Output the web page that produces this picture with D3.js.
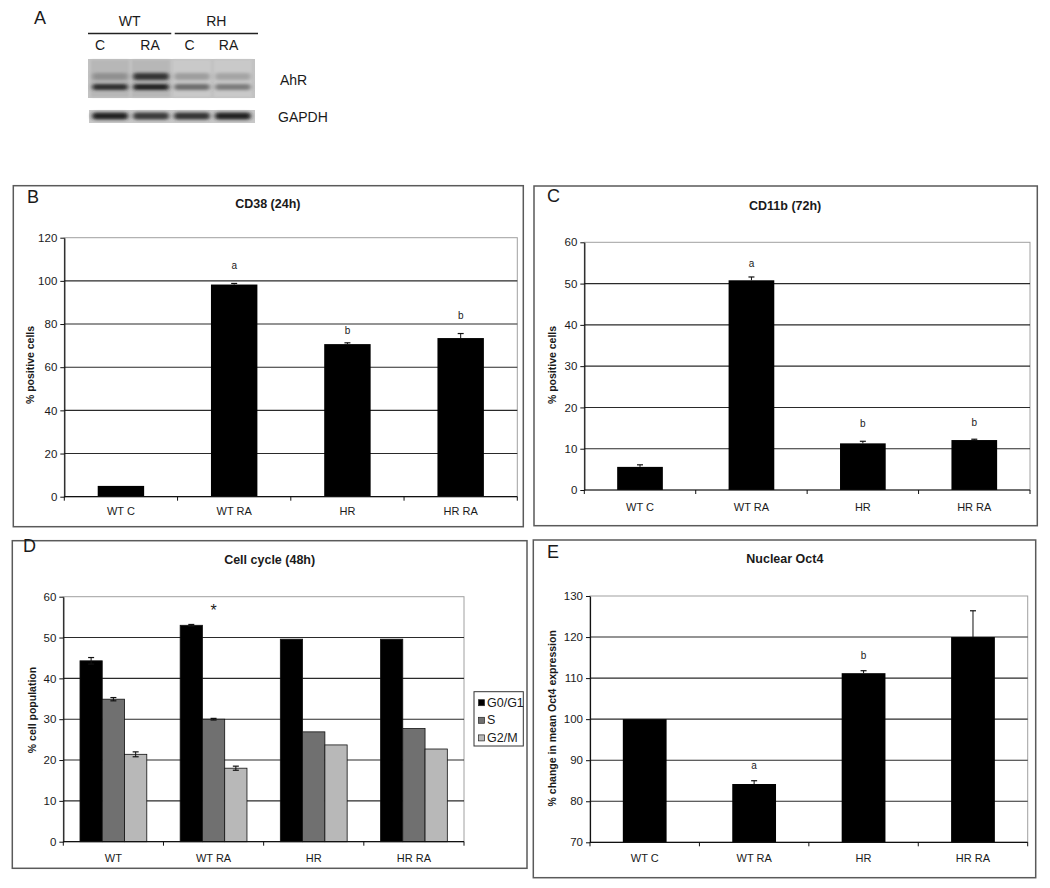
<!DOCTYPE html>
<html>
<head>
<meta charset="utf-8">
<script src="https://cdn.jsdelivr.net/npm/d3@7"></script>
<style>
  html, body { margin: 0; padding: 0; background: #fff; }
  svg { display: block; font-family: "Liberation Sans", Arial, sans-serif; }
</style>
</head>
<body>
<svg id="fig" width="1050" height="888"></svg>
<script>
// ---------------- DATA ----------------
const lanes = ["C", "RA", "C", "RA"];
const laneGroups = ["WT", "RH"];
const ahrUpperBand = [0.28, 0.80, 0.20, 0.16];
const ahrLowerBand = [0.85, 0.92, 0.48, 0.40];
const gapdhBand = [0.92, 0.78, 0.80, 0.92];

const categories = ["WT C", "WT RA", "HR", "HR RA"];

const cd38Values = [5.0, 98.3, 70.7, 73.5];
const cd38Errors = [0.0, 0.5, 0.6, 2.1];
const cd38Letters = ["", "a", "b", "b"];
const cd38LetterAt = [null, 107, 76.9, 83.8];
const cd38Ticks = [0, 20, 40, 60, 80, 100, 120];

const cd11bValues = [5.6, 50.8, 11.3, 12.1];
const cd11bErrors = [0.5, 0.8, 0.5, 0.2];
const cd11bLetters = ["", "a", "b", "b"];
const cd11bLetterAt = [null, 54.9, 16.1, 16.4];
const cd11bTicks = [0, 10, 20, 30, 40, 50, 60];

const cycleCategories = ["WT", "WT RA", "HR", "HR RA"];
const cycleSeries = ["G0/G1", "S", "G2/M"];
const g0g1Values = [44.3, 53.0, 49.6, 49.6];
const g0g1Errors = [0.8, 0.2, 0, 0];
const sValues = [34.9, 30.0, 26.9, 27.7];
const sErrors = [0.4, 0.2, 0, 0];
const g2mValues = [21.4, 18.0, 23.7, 22.7];
const g2mErrors = [0.6, 0.5, 0, 0];
const cycleMarks = ["", "*", "", ""];
const cycleMarkAt = [null, 56.5, null, null];
const cycleTicks = [0, 10, 20, 30, 40, 50, 60];

const oct4Values = [100, 84.2, 111.2, 120.0];
const oct4Errors = [0, 0.8, 0.6, 6.4];
const oct4Letters = ["", "a", "b", ""];
const oct4LetterAt = [null, 88.8, 115.5, null];
const oct4Ticks = [70, 80, 90, 100, 110, 120, 130];

// ---------------- DRAWING ----------------
const svg = d3.select("#fig");
const TXT = "#1a1a1a";
const defs = svg.append("defs");
defs.append("filter").attr("id", "blur").attr("x", "-20%").attr("y", "-150%").attr("width", "140%").attr("height", "400%")
  .append("feGaussianBlur").attr("stdDeviation", "2.2 1.6");
defs.append("filter").attr("id", "blurBg").attr("x", "-5%").attr("y", "-5%").attr("width", "110%").attr("height", "110%")
  .append("feGaussianBlur").attr("stdDeviation", 1.2);

// ---- Panel A: western blot ----
(function () {
  const g = svg.append("g");
  g.append("text").attr("x", 34).attr("y", 24).attr("font-size", 18).attr("fill", TXT).text("A");
  const laneX = d3.scaleBand().domain(d3.range(4)).range([88, 255]).padding(0.08);
  const groupX = d3.scaleBand().domain(laneGroups).range([88, 258]).paddingInner(0.04);
  laneGroups.forEach(gr => {
    g.append("text").attr("x", groupX(gr) + groupX.bandwidth() / 2).attr("y", 26)
      .attr("text-anchor", "middle").attr("font-size", 14).attr("fill", TXT).text(gr);
    g.append("line").attr("x1", groupX(gr)).attr("x2", groupX(gr) + groupX.bandwidth())
      .attr("y1", 33.5).attr("y2", 33.5).attr("stroke", "#222").attr("stroke-width", 1.3);
  });
  const labelX = [100, 150, 189.5, 228.5];
  lanes.forEach((l, i) => {
    g.append("text").attr("x", labelX[i]).attr("y", 50).attr("text-anchor", "middle")
      .attr("font-size", 14).attr("fill", TXT).text(l);
  });
  // AhR blot
  const ahr = g.append("g");
  ahr.append("rect").attr("x", 88).attr("y", 59).attr("width", 167).attr("height", 39).attr("fill", "#c2c2c2");
  lanes.forEach((l, i) => {
    ahr.append("rect").attr("x", laneX(i)).attr("y", 60).attr("width", laneX.bandwidth()).attr("height", 37)
      .attr("fill", i < 2 ? "#b7b7b7" : "#c9c9c9").attr("filter", "url(#blurBg)");
  });
  const shade = d3.scaleLinear().domain([0, 1]).range(["#c0c0c0", "#141414"]);
  lanes.forEach((l, i) => {
    const x0 = laneX(i), w = laneX.bandwidth();
    ahr.append("rect").attr("x", x0 + 1).attr("y", 73).attr("width", w - 2).attr("height", 7)
      .attr("rx", 3).attr("fill", shade(ahrUpperBand[i])).attr("filter", "url(#blur)");
    ahr.append("rect").attr("x", x0 + 1).attr("y", 84).attr("width", w - 2).attr("height", 6)
      .attr("rx", 3).attr("fill", shade(ahrLowerBand[i])).attr("filter", "url(#blur)");
  });
  g.append("text").attr("x", 280).attr("y", 85).attr("font-size", 14).attr("fill", TXT).text("AhR");
  // GAPDH blot
  g.append("rect").attr("x", 89).attr("y", 110).attr("width", 166).attr("height", 13).attr("fill", "#c8c8c8");
  lanes.forEach((l, i) => {
    const x0 = laneX(i), w = laneX.bandwidth();
    g.append("rect").attr("x", x0 + 1).attr("y", 112.5).attr("width", w - 2).attr("height", 7)
      .attr("rx", 3).attr("fill", shade(gapdhBand[i])).attr("filter", "url(#blur)");
  });
  g.append("text").attr("x", 278).attr("y", 122).attr("font-size", 14).attr("fill", TXT).text("GAPDH");
})();

// ---- generic bar panel ----
function barPanel(cfg) {
  const g = svg.append("g");
  const [bx0, by0, bx1, by1] = cfg.box;
  const [px0, py0, px1, py1] = cfg.plot;
  g.append("rect").attr("x", bx0).attr("y", by0).attr("width", bx1 - bx0).attr("height", by1 - by0)
    .attr("fill", "#fff").attr("stroke", "#5a5a5a").attr("stroke-width", 1.5);
  g.append("text").attr("x", cfg.letterPos[0]).attr("y", cfg.letterPos[1]).attr("font-size", 18)
    .attr("fill", TXT).text(cfg.letter);
  g.append("text").attr("x", (px0 + px1) / 2 + (cfg.titleDx || 0)).attr("y", cfg.titleY)
    .attr("text-anchor", "middle").attr("dominant-baseline", "central")
    .attr("font-size", 12.5).attr("font-weight", "bold").attr("fill", TXT).text(cfg.title);

  const x = d3.scaleBand().domain(cfg.categories).range([px0, px1]).padding(0);
  const y = d3.scaleLinear().domain(cfg.domain).range([py1, py0]);

  g.append("rect").attr("x", px0).attr("y", py0).attr("width", px1 - px0).attr("height", py1 - py0)
    .attr("fill", "none").attr("stroke", "#a0a0a0").attr("stroke-width", 1);
  g.selectAll(null).data(cfg.ticks.slice(1, -1)).enter().append("line")
    .attr("x1", px0).attr("x2", px1).attr("y1", d => y(d)).attr("y2", d => y(d))
    .attr("stroke", "#2a2a2a").attr("stroke-width", 1.1);

  const series = cfg.series;
  const nS = series.length;
  const groupW = x.bandwidth() * cfg.groupFrac;
  const barW = groupW / nS;
  series.forEach((s, si) => {
    g.selectAll(null).data(s.values).enter().append("rect")
      .attr("x", (d, i) => x(cfg.categories[i]) + (x.bandwidth() - groupW) / 2 + si * barW)
      .attr("y", d => y(d))
      .attr("width", barW)
      .attr("height", d => y(cfg.domain[0]) - y(d))
      .attr("fill", s.color).attr("stroke", "#111").attr("stroke-width", nS > 1 ? 0.8 : 0);
    s.errors.forEach((e, i) => {
      if (!e) return;
      const cx = x(cfg.categories[i]) + (x.bandwidth() - groupW) / 2 + (si + 0.5) * barW;
      const v = s.values[i];
      const yt = y(v + e), yb = cfg.twoSided ? y(v - e) : y(v);
      g.append("line").attr("x1", cx).attr("x2", cx).attr("y1", yt).attr("y2", yb)
        .attr("stroke", "#111").attr("stroke-width", 1);
      const caps = cfg.twoSided ? [yt, yb] : [yt];
      caps.forEach(yy => g.append("line").attr("x1", cx - 3).attr("x2", cx + 3)
        .attr("y1", yy).attr("y2", yy).attr("stroke", "#111").attr("stroke-width", 1.2));
    });
  });

  cfg.letters.forEach((t, i) => {
    if (!t) return;
    g.append("text").attr("x", x(cfg.categories[i]) + x.bandwidth() / 2).attr("y", y(cfg.letterAt[i]))
      .attr("text-anchor", "middle").attr("dominant-baseline", "central")
      .attr("font-size", t === "*" ? 16 : 10).attr("fill", TXT).text(t);
  });

  const yAxis = d3.axisLeft(y).tickValues(cfg.ticks).tickSize(4).tickSizeOuter(0).tickPadding(3);
  const ya = g.append("g").attr("transform", `translate(${px0},0)`).call(yAxis);
  ya.select(".domain").attr("stroke", "#111").attr("stroke-width", 1.2);
  ya.selectAll(".tick line").attr("stroke", "#111");
  ya.selectAll(".tick text").attr("font-size", 11.5).attr("fill", TXT)
    .attr("font-family", "'Liberation Sans', Arial, sans-serif");

  g.append("line").attr("x1", px0).attr("x2", px1).attr("y1", py1).attr("y2", py1)
    .attr("stroke", "#111").attr("stroke-width", 1.2);
  const bounds = cfg.categories.map(c => x(c)).concat([px1]);
  g.selectAll(null).data(bounds).enter().append("line")
    .attr("x1", d => d).attr("x2", d => d).attr("y1", py1).attr("y2", py1 + 4)
    .attr("stroke", "#111").attr("stroke-width", 1);
  g.selectAll(null).data(cfg.categories).enter().append("text")
    .attr("x", d => x(d) + x.bandwidth() / 2).attr("y", cfg.xLabelY)
    .attr("text-anchor", "middle").attr("dominant-baseline", "central")
    .attr("font-size", 11).attr("fill", TXT).text(d => d);

  g.append("text").attr("transform", `translate(${cfg.yLabelPos[0]},${cfg.yLabelPos[1]}) rotate(-90)`)
    .attr("text-anchor", "middle").attr("dominant-baseline", "central")
    .attr("font-size", 10.5).attr("font-weight", "bold").attr("fill", TXT).text(cfg.yLabel);

  if (cfg.legend) {
    const L = cfg.legend;
    g.append("rect").attr("x", L.x).attr("y", L.y).attr("width", L.w).attr("height", L.h)
      .attr("fill", "#fff").attr("stroke", "#333").attr("stroke-width", 1);
    series.forEach((s, si) => {
      const cy = L.y + 11 + si * 17.6;
      g.append("rect").attr("x", L.x + 4.5).attr("y", cy - 3).attr("width", 6).attr("height", 6)
        .attr("fill", s.color).attr("stroke", "#222").attr("stroke-width", 0.7);
      g.append("text").attr("x", L.x + 13).attr("y", cy).attr("dominant-baseline", "central")
        .attr("font-size", 12.5).attr("fill", TXT).text(s.name);
    });
  }
}

barPanel({
  letter: "B", letterPos: [27, 203], title: "CD38 (24h)", titleY: 204, titleDx: -23,
  box: [13.3, 185.7, 523.3, 526.7], plot: [64.3, 237.7, 517.3, 496.7],
  categories: categories, domain: [0, 120], ticks: cd38Ticks, groupFrac: 0.41,
  series: [{ name: "", values: cd38Values, errors: cd38Errors, color: "#000" }],
  letters: cd38Letters, letterAt: cd38LetterAt,
  xLabelY: 510.7, yLabel: "% positive cells", yLabelPos: [30, 365]
});

barPanel({
  letter: "C", letterPos: [547, 202], title: "CD11b (72h)", titleY: 205.7, titleDx: -22,
  box: [534, 186, 1037.3, 525.7], plot: [584.3, 242.3, 1030, 490],
  categories: categories, domain: [0, 60], ticks: cd11bTicks, groupFrac: 0.41,
  series: [{ name: "", values: cd11bValues, errors: cd11bErrors, color: "#000" }],
  letters: cd11bLetters, letterAt: cd11bLetterAt,
  xLabelY: 506.7, yLabel: "% positive cells", yLabelPos: [552.3, 365]
});

barPanel({
  letter: "D", letterPos: [23, 552], title: "Cell cycle (48h)", titleY: 560, titleDx: 6,
  box: [12.3, 540.7, 527, 868.3], plot: [63.3, 596.7, 464, 841.7],
  categories: cycleCategories, domain: [0, 60], ticks: cycleTicks, groupFrac: 0.667, twoSided: true,
  series: [
    { name: cycleSeries[0], values: g0g1Values, errors: g0g1Errors, color: "#000" },
    { name: cycleSeries[1], values: sValues, errors: sErrors, color: "#707070" },
    { name: cycleSeries[2], values: g2mValues, errors: g2mErrors, color: "#b8b8b8" }
  ],
  letters: cycleMarks, letterAt: cycleMarkAt,
  xLabelY: 858.3, yLabel: "% cell population", yLabelPos: [31.7, 710],
  legend: { x: 474, y: 691.7, w: 49.3, h: 54.3 }
});

barPanel({
  letter: "E", letterPos: [547, 558], title: "Nuclear Oct4", titleY: 559.3, titleDx: -24,
  box: [533.3, 540, 1035.7, 877.7], plot: [590, 596, 1027.7, 842.3],
  categories: categories, domain: [70, 130], ticks: oct4Ticks, groupFrac: 0.40,
  series: [{ name: "", values: oct4Values, errors: oct4Errors, color: "#000" }],
  letters: oct4Letters, letterAt: oct4LetterAt,
  xLabelY: 858.3, yLabel: "% change in mean Oct4 expression", yLabelPos: [552.3, 718.3]
});
</script>
</body>
</html>
